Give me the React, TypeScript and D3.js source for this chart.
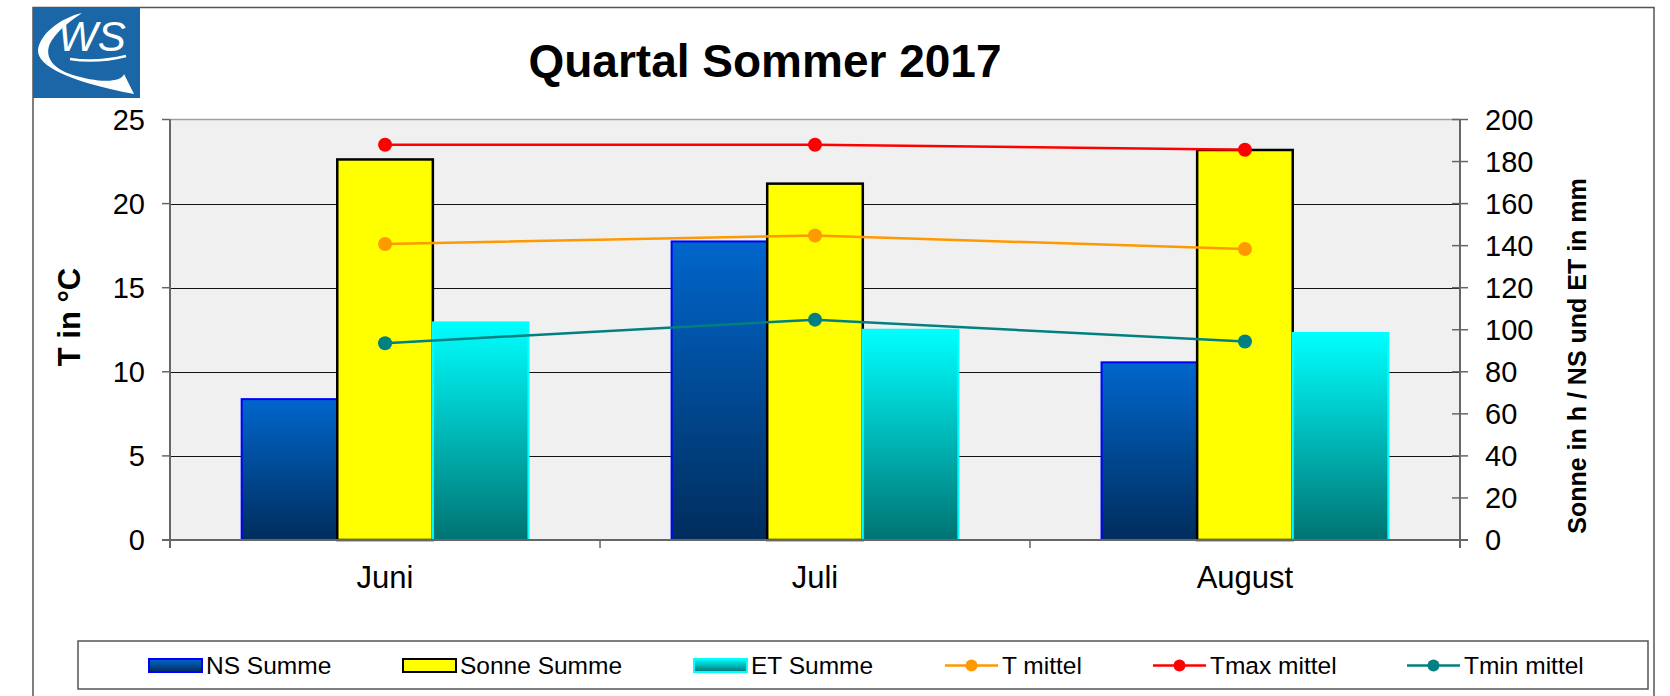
import React, { useEffect, useRef } from "react";
import * as d3 from "d3";

const months = ["Juni", "Juli", "August"];
const nsSumme = [67, 142, 84.5];
const sonneSumme = [181, 169.5, 185.5];
const etSumme = [103.5, 100, 98.5];
const tMittel = [17.6, 18.1, 17.3];
const tmaxMittel = [23.5, 23.5, 23.2];
const tminMittel = [11.7, 13.1, 11.8];
const leftTicks = [0, 5, 10, 15, 20, 25];
const rightTicks = [0, 20, 40, 60, 80, 100, 120, 140, 160, 180, 200];

const FONT = "'Liberation Sans', Arial, sans-serif";

const App = () => {
  const chartRef = useRef<SVGSVGElement>(null);

  useEffect(() => {
    const width = 1670;
    const height = 696;
    const plot = { left: 170, right: 1460, top: 119.5, bottom: 540 };

    const svg = d3.select(chartRef.current);
    svg.selectAll("*").remove();
    svg.attr("width", width).attr("height", height);

    const defs = svg.append("defs");
    const grad = (id: string, top: string, bottom: string) => {
      const g = defs
        .append("linearGradient")
        .attr("id", id)
        .attr("x1", 0)
        .attr("y1", 0)
        .attr("x2", 0)
        .attr("y2", 1);
      g.append("stop").attr("offset", "0%").attr("stop-color", top);
      g.append("stop").attr("offset", "100%").attr("stop-color", bottom);
    };
    grad("gNS", "#0066cc", "#002d5c");
    grad("gET", "#00ffff", "#007373");

    // outer frame
    svg
      .append("rect")
      .attr("x", 33)
      .attr("y", 7.5)
      .attr("width", 1621)
      .attr("height", 720)
      .attr("fill", "#fff")
      .attr("stroke", "#555")
      .attr("stroke-width", 1.5);

    // logo
    const logo = svg.append("g");
    logo
      .append("rect")
      .attr("x", 33)
      .attr("y", 8)
      .attr("width", 107)
      .attr("height", 90)
      .attr("fill", "#1a66a6");
    logo
      .append("path")
      .attr(
        "d",
        "M82,13 C60,18 40,34 38,50 C37,66 70,82 134,94 L124,74 C122,82 100,84 70,74 C48,66 44,52 52,40 C60,28 72,20 82,13 Z"
      )
      .attr("fill", "#fff");
    logo
      .append("text")
      .attr("x", 58)
      .attr("y", 51)
      .attr("font-family", FONT)
      .attr("font-size", 42)
      .attr("font-style", "italic")
      .attr("fill", "#fff")
      .text("WS");
    logo
      .append("path")
      .attr("d", "M70,59 C90,62 110,60 126,56")
      .attr("stroke", "#fff")
      .attr("stroke-width", 2.5)
      .attr("fill", "none");

    // title
    svg
      .append("text")
      .attr("x", 765)
      .attr("y", 77)
      .attr("text-anchor", "middle")
      .attr("font-family", FONT)
      .attr("font-weight", "bold")
      .attr("font-size", 46)
      .text("Quartal Sommer 2017");

    const yLeft = d3.scaleLinear().domain([0, 25]).range([plot.bottom, plot.top]);
    const yRight = d3.scaleLinear().domain([0, 200]).range([plot.bottom, plot.top]);
    const x0 = d3
      .scaleBand()
      .domain(months)
      .range([plot.left, plot.right])
      .paddingInner(0.333)
      .paddingOuter(0.1667);
    const seriesNames = ["NS", "Sonne", "ET"];
    const x1 = d3.scaleBand().domain(seriesNames).range([0, x0.bandwidth()]);
    const xc = (m: string) => (x0(m) as number) + x0.bandwidth() / 2;

    // plot area
    svg
      .append("rect")
      .attr("x", plot.left)
      .attr("y", plot.top)
      .attr("width", plot.right - plot.left)
      .attr("height", plot.bottom - plot.top)
      .attr("fill", "#f0f0f0");
    svg
      .append("line")
      .attr("x1", plot.left)
      .attr("x2", plot.right)
      .attr("y1", plot.top)
      .attr("y2", plot.top)
      .attr("stroke", "#a0a0a0")
      .attr("stroke-width", 1.5);

    // gridlines
    svg
      .append("g")
      .selectAll("line")
      .data(leftTicks.filter((t) => t > 0 && t < 25))
      .enter()
      .append("line")
      .attr("x1", plot.left)
      .attr("x2", plot.right)
      .attr("y1", (d) => Math.round(yLeft(d)) + 0.5)
      .attr("y2", (d) => Math.round(yLeft(d)) + 0.5)
      .attr("stroke", "#111")
      .attr("stroke-width", 1);

    // bars
    const barData = months.flatMap((m, i) => [
      { m, s: "NS", v: nsSumme[i] },
      { m, s: "Sonne", v: sonneSumme[i] },
      { m, s: "ET", v: etSumme[i] },
    ]);
    const fills: Record<string, string> = { NS: "url(#gNS)", Sonne: "#ffff00", ET: "url(#gET)" };
    const strokes: Record<string, string> = { NS: "#0000ff", Sonne: "#000", ET: "#00ffff" };
    const sw: Record<string, number> = { NS: 2, Sonne: 2.5, ET: 2 };
    svg
      .append("g")
      .selectAll("rect")
      .data(barData)
      .enter()
      .append("rect")
      .attr("x", (d) => (x0(d.m) as number) + (x1(d.s) as number))
      .attr("y", (d) => yRight(d.v))
      .attr("width", x1.bandwidth())
      .attr("height", (d) => plot.bottom - yRight(d.v))
      .attr("fill", (d) => fills[d.s])
      .attr("stroke", (d) => strokes[d.s])
      .attr("stroke-width", (d) => sw[d.s]);

    // axes lines
    const axisColor = "#666";
    svg
      .append("line")
      .attr("x1", plot.left)
      .attr("x2", plot.left)
      .attr("y1", plot.top)
      .attr("y2", plot.bottom + 8)
      .attr("stroke", axisColor)
      .attr("stroke-width", 2);
    svg
      .append("line")
      .attr("x1", plot.right)
      .attr("x2", plot.right)
      .attr("y1", plot.top)
      .attr("y2", plot.bottom + 8)
      .attr("stroke", axisColor)
      .attr("stroke-width", 2);
    svg
      .append("line")
      .attr("x1", plot.left - 8)
      .attr("x2", plot.right + 8)
      .attr("y1", plot.bottom)
      .attr("y2", plot.bottom)
      .attr("stroke", axisColor)
      .attr("stroke-width", 2);

    // x ticks between categories
    const sep = [plot.left, ...months.slice(1).map((m) => (x0(m) as number) - (x0.step() - x0.bandwidth()) / 2), plot.right];
    svg
      .append("g")
      .selectAll("line")
      .data(sep)
      .enter()
      .append("line")
      .attr("x1", (d) => d)
      .attr("x2", (d) => d)
      .attr("y1", plot.bottom)
      .attr("y2", plot.bottom + 8)
      .attr("stroke", axisColor)
      .attr("stroke-width", 1.5);

    // left ticks + labels
    const lt = svg.append("g");
    lt.selectAll("line")
      .data(leftTicks)
      .enter()
      .append("line")
      .attr("x1", plot.left - 8)
      .attr("x2", plot.left)
      .attr("y1", (d) => yLeft(d))
      .attr("y2", (d) => yLeft(d))
      .attr("stroke", axisColor)
      .attr("stroke-width", 1.5);
    lt.selectAll("text")
      .data(leftTicks)
      .enter()
      .append("text")
      .attr("x", 145)
      .attr("y", (d) => yLeft(d))
      .attr("dy", "0.36em")
      .attr("text-anchor", "end")
      .attr("font-family", FONT)
      .attr("font-size", 29)
      .text((d) => d);

    // right ticks + labels
    const rt = svg.append("g");
    rt.selectAll("line")
      .data(rightTicks)
      .enter()
      .append("line")
      .attr("x1", plot.right - 8)
      .attr("x2", plot.right + 8)
      .attr("y1", (d) => yRight(d))
      .attr("y2", (d) => yRight(d))
      .attr("stroke", axisColor)
      .attr("stroke-width", 1.5);
    rt.selectAll("text")
      .data(rightTicks)
      .enter()
      .append("text")
      .attr("x", 1485)
      .attr("y", (d) => yRight(d))
      .attr("dy", "0.36em")
      .attr("font-family", FONT)
      .attr("font-size", 29)
      .text((d) => d);

    // category labels
    svg
      .append("g")
      .selectAll("text")
      .data(months)
      .enter()
      .append("text")
      .attr("x", (d) => xc(d))
      .attr("y", 588)
      .attr("text-anchor", "middle")
      .attr("font-family", FONT)
      .attr("font-size", 31)
      .text((d) => d);

    // axis titles
    svg
      .append("text")
      .attr("transform", "translate(80,317) rotate(-90)")
      .attr("text-anchor", "middle")
      .attr("font-family", FONT)
      .attr("font-weight", "bold")
      .attr("font-size", 31)
      .text("T in °C");
    svg
      .append("text")
      .attr("transform", "translate(1586,356) rotate(-90)")
      .attr("text-anchor", "middle")
      .attr("font-family", FONT)
      .attr("font-weight", "bold")
      .attr("font-size", 25)
      .text("Sonne in h / NS und ET in mm");

    // lines
    const lineSeries = [
      { name: "T mittel", values: tMittel, color: "#ff9900" },
      { name: "Tmax mittel", values: tmaxMittel, color: "#ff0000" },
      { name: "Tmin mittel", values: tminMittel, color: "#008080" },
    ];
    const lineGen = d3
      .line<number>()
      .x((_, i) => xc(months[i]))
      .y((d) => yLeft(d));
    lineSeries.forEach((s) => {
      svg
        .append("path")
        .attr("d", lineGen(s.values))
        .attr("fill", "none")
        .attr("stroke", s.color)
        .attr("stroke-width", 2.5);
      svg
        .append("g")
        .selectAll("circle")
        .data(s.values)
        .enter()
        .append("circle")
        .attr("cx", (_, i) => xc(months[i]))
        .attr("cy", (d) => yLeft(d))
        .attr("r", 7)
        .attr("fill", s.color);
    });

    // legend
    const legend = svg.append("g");
    legend
      .append("rect")
      .attr("x", 78)
      .attr("y", 641)
      .attr("width", 1570)
      .attr("height", 48)
      .attr("fill", "#fff")
      .attr("stroke", "#555")
      .attr("stroke-width", 1.5);
    const legendItems = [
      { label: "NS Summe", x: 149, kind: "bar", s: "NS" },
      { label: "Sonne Summe", x: 403, kind: "bar", s: "Sonne" },
      { label: "ET Summe", x: 694, kind: "bar", s: "ET" },
      { label: "T mittel", x: 945, kind: "line", color: "#ff9900" },
      { label: "Tmax mittel", x: 1153, kind: "line", color: "#ff0000" },
      { label: "Tmin mittel", x: 1407, kind: "line", color: "#008080" },
    ];
    const ly = 665.5;
    legendItems.forEach((it) => {
      if (it.kind === "bar") {
        legend
          .append("rect")
          .attr("x", it.x)
          .attr("y", ly - 6.5)
          .attr("width", 53)
          .attr("height", 13)
          .attr("fill", fills[it.s as string])
          .attr("stroke", strokes[it.s as string])
          .attr("stroke-width", 2);
      } else {
        legend
          .append("line")
          .attr("x1", it.x)
          .attr("x2", it.x + 53)
          .attr("y1", ly)
          .attr("y2", ly)
          .attr("stroke", it.color as string)
          .attr("stroke-width", 2.5);
        legend
          .append("circle")
          .attr("cx", it.x + 26.5)
          .attr("cy", ly)
          .attr("r", 6)
          .attr("fill", it.color as string);
      }
      legend
        .append("text")
        .attr("x", it.x + 57)
        .attr("y", 673.5)
        .attr("font-family", FONT)
        .attr("font-size", 24.5)
        .text(it.label);
    });
  }, []);

  return (
    <div style={{ position: "absolute", left: 0, top: 0 }}>
      <svg ref={chartRef} style={{ display: "block" }}></svg>
    </div>
  );
};

export default App;
